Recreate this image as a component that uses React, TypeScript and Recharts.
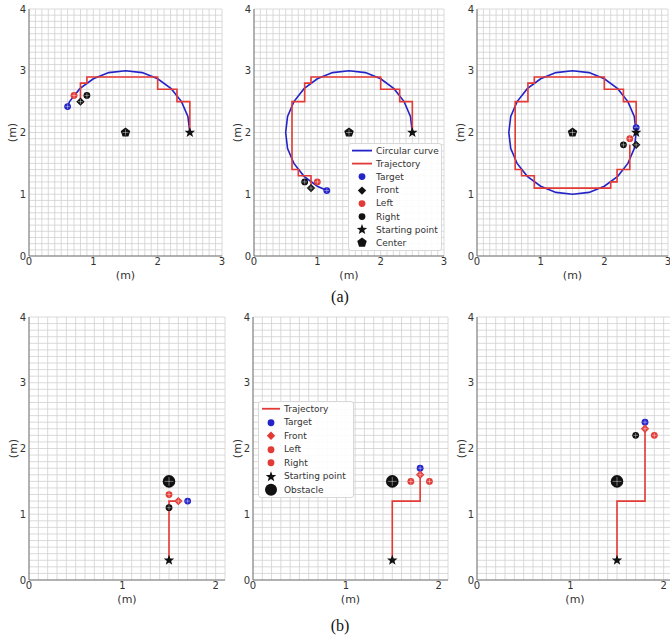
import { CartesianGrid, Label, Scatter, ScatterChart, XAxis, YAxis } from "recharts";

type Pt = { x: number; y: number };
type SensorPt = Pt & { blocked?: boolean };

// points (counter-clockwise from the start point)
const circleCurve: Pt[] = [
  { x: 2.5, y: 2.0 }, { x: 2.47, y: 2.26 }, { x: 2.37, y: 2.5 }, { x: 2.21, y: 2.71 },
  { x: 2.0, y: 2.87 }, { x: 1.76, y: 2.97 }, { x: 1.5, y: 3.0 }, { x: 1.24, y: 2.97 },
  { x: 1.0, y: 2.87 }, { x: 0.79, y: 2.71 }, { x: 0.63, y: 2.5 }, { x: 0.53, y: 2.26 },
  { x: 0.5, y: 2.0 }, { x: 0.53, y: 1.74 }, { x: 0.63, y: 1.5 }, { x: 0.79, y: 1.29 },
  { x: 1.0, y: 1.13 }, { x: 1.24, y: 1.03 }, { x: 1.5, y: 1.0 }, { x: 1.76, y: 1.03 },
  { x: 2.0, y: 1.13 }, { x: 2.21, y: 1.29 }, { x: 2.37, y: 1.5 }, { x: 2.47, y: 1.74 },
  { x: 2.5, y: 2.0 },
];

// (a) trajectories
const trajA1: Pt[] = [
  { x: 2.5, y: 2.0 }, { x: 2.5, y: 2.5 }, { x: 2.3, y: 2.5 }, { x: 2.3, y: 2.7 },
  { x: 2.0, y: 2.7 }, { x: 2.0, y: 2.9 }, { x: 0.9, y: 2.9 }, { x: 0.9, y: 2.8 },
  { x: 0.8, y: 2.8 }, { x: 0.8, y: 2.5 },
];
const trajA2Tail: Pt[] = [
  { x: 0.6, y: 2.5 }, { x: 0.6, y: 1.4 }, { x: 0.7, y: 1.4 }, { x: 0.7, y: 1.3 },
  { x: 0.9, y: 1.3 }, { x: 0.9, y: 1.1 },
];
const trajA3Tail: Pt[] = [
  { x: 2.1, y: 1.1 }, { x: 2.1, y: 1.2 }, { x: 2.2, y: 1.2 }, { x: 2.2, y: 1.4 },
  { x: 2.4, y: 1.4 }, { x: 2.4, y: 1.8 },
];
const trajA2 = [...trajA1, ...trajA2Tail];
const trajA3 = [...trajA2, ...trajA3Tail];

const targetA: Pt[] = [{ x: 0.6, y: 2.42 }, { x: 1.15, y: 1.06 }, { x: 2.5, y: 2.08 }];
const frontA: Pt[] = [{ x: 0.8, y: 2.5 }, { x: 0.9, y: 1.1 }, { x: 2.5, y: 1.8 }];
const leftA: Pt[] = [{ x: 0.7, y: 2.6 }, { x: 1.0, y: 1.2 }, { x: 2.4, y: 1.9 }];
const rightA: Pt[] = [{ x: 0.9, y: 2.6 }, { x: 0.8, y: 1.2 }, { x: 2.3, y: 1.8 }];
const startA: Pt = { x: 2.5, y: 2.0 };
const centerA: Pt = { x: 1.5, y: 2.0 };

// (b) obstacle avoidance
const trajB: Pt[][] = [
  [{ x: 1.5, y: 0.3 }, { x: 1.5, y: 1.2 }, { x: 1.6, y: 1.2 }],
  [{ x: 1.5, y: 0.3 }, { x: 1.5, y: 1.2 }, { x: 1.8, y: 1.2 }, { x: 1.8, y: 1.6 }],
  [{ x: 1.5, y: 0.3 }, { x: 1.5, y: 1.2 }, { x: 1.8, y: 1.2 }, { x: 1.8, y: 2.3 }],
];
const targetB: Pt[] = [{ x: 1.7, y: 1.2 }, { x: 1.8, y: 1.7 }, { x: 1.8, y: 2.4 }];
const frontB: Pt[] = [{ x: 1.6, y: 1.2 }, { x: 1.8, y: 1.6 }, { x: 1.8, y: 2.3 }];
const leftB: SensorPt[] = [{ x: 1.5, y: 1.3 }, { x: 1.7, y: 1.5 }, { x: 1.7, y: 2.2, blocked: true }];
const rightB: SensorPt[] = [{ x: 1.5, y: 1.1, blocked: true }, { x: 1.9, y: 1.5 }, { x: 1.9, y: 2.2 }];
const startB: Pt = { x: 1.5, y: 0.3 };
const obstacleB: Pt = { x: 1.5, y: 1.5 };

const ticksA = [0, 1, 2, 3];
const ticksB = [0, 1, 2];
const ticksY = [0, 1, 2, 3, 4];

const FONT = "DejaVu Sans, sans-serif";
const BLUE = "#2323c8";
const RED = "#e23a35";
const BLACK = "#111";
const TXT = "#333";

const steps = (max: number) => Array.from({ length: Math.round(max * 10) + 1 }, (_, i) => i / 10);

const cross = (cx: number, cy: number, r: number) => (
  <path d={`M${cx - r} ${cy}H${cx + r}M${cx} ${cy - r}V${cy + r}`} stroke="#fff" strokeOpacity={0.5} strokeWidth={0.8} />
);

const dot = (color: string, r: number) => (p: any) => (
  <g>
    <circle cx={p.cx} cy={p.cy} r={r} fill={color} />
    {cross(p.cx, p.cy, r * 0.7)}
  </g>
);

const sensorDot = (r: number) => (p: any) => dot(p.payload?.blocked ? BLACK : RED, r)(p);

const diamond = (color: string, s: number) => (p: any) => (
  <g>
    <path d={`M${p.cx} ${p.cy - s}L${p.cx + s} ${p.cy}L${p.cx} ${p.cy + s}L${p.cx - s} ${p.cy}Z`} fill={color} />
    {cross(p.cx, p.cy, s * 0.6)}
  </g>
);

function starPath(cx: number, cy: number, R: number) {
  let d = "";
  for (let i = 0; i < 10; i++) {
    const r = i % 2 === 0 ? R : R * 0.42;
    const a = -Math.PI / 2 + (i * Math.PI) / 5;
    d += `${i === 0 ? "M" : "L"}${cx + r * Math.cos(a)} ${cy + r * Math.sin(a)}`;
  }
  return d + "Z";
}

function pentagonPath(cx: number, cy: number, R: number) {
  let d = "";
  for (let i = 0; i < 5; i++) {
    const a = -Math.PI / 2 + (i * 2 * Math.PI) / 5;
    d += `${i === 0 ? "M" : "L"}${cx + R * Math.cos(a)} ${cy + R * Math.sin(a)}`;
  }
  return d + "Z";
}

const star = (R: number) => (p: any) => <path d={starPath(p.cx, p.cy, R)} fill={BLACK} />;
const pentagon = (R: number) => (p: any) => (
  <g>
    <path d={pentagonPath(p.cx, p.cy, R)} fill={BLACK} />
    {cross(p.cx, p.cy, R * 0.6)}
  </g>
);
const noMark = () => <g />;

type PanelProps = {
  left: number;
  top: number;
  w: number;
  h: number;
  xMax: number;
  xTicks: number[];
  curve?: Pt[];
  traj: Pt[];
  target: Pt;
  front: Pt;
  leftS: SensorPt;
  rightS: SensorPt;
  start: Pt;
  center?: Pt;
  obstacle?: Pt;
  row: "a" | "b";
};

function Panel(props: PanelProps) {
  const { left, top, w, h, xMax, xTicks, curve, traj, target, front, leftS, rightS, start, center, obstacle, row } = props;
  const tick = { fontSize: 10, fill: TXT, fontFamily: FONT };
  const yLabOff = row === "a" ? 17 : 16;
  return (
    <div style={{ position: "absolute", left: left - 30, top: top - 8 }}>
      <ScatterChart width={w + 36} height={h + 38} margin={{ top: 8, right: 6, bottom: 0, left: 0 }}>
        <CartesianGrid verticalValues={steps(xMax)} horizontalValues={steps(4)} stroke="#d0d0d0" strokeWidth={0.8} />
        <XAxis
          type="number"
          dataKey="x"
          domain={[0, xMax]}
          ticks={xTicks}
          interval={0}
          allowDataOverflow
          height={30}
          tickSize={0}
          tickMargin={2}
          tickLine={false}
          axisLine={{ stroke: "#777" }}
          tick={tick}
        >
          <Label
            content={(p: any) => (
              <text
                x={p.viewBox.x + p.viewBox.width / 2}
                y={p.viewBox.y + 19}
                textAnchor="middle"
                dominantBaseline="central"
                fontSize={11}
                fontFamily={FONT}
                fill={TXT}
              >
                (m)
              </text>
            )}
          />
        </XAxis>
        <YAxis
          type="number"
          dataKey="y"
          domain={[0, 4]}
          ticks={ticksY}
          interval={0}
          allowDataOverflow
          width={30}
          tickSize={0}
          tickMargin={3}
          tickLine={false}
          axisLine={{ stroke: "#777" }}
          tick={tick}
        >
          <Label
            content={(p: any) => {
              const cx = p.viewBox.x + p.viewBox.width - yLabOff;
              const cy = p.viewBox.y + p.viewBox.height / 2;
              return (
                <text
                  x={cx}
                  y={cy}
                  transform={`rotate(-90 ${cx} ${cy})`}
                  textAnchor="middle"
                  dominantBaseline="central"
                  fontSize={11}
                  fontFamily={FONT}
                  fill={TXT}
                >
                  (m)
                </text>
              );
            }}
          />
        </YAxis>
        {curve && (
          <Scatter data={curve} line={{ stroke: BLUE, strokeWidth: 1.6 }} lineType="joint" shape={noMark} isAnimationActive={false} />
        )}
        <Scatter data={traj} line={{ stroke: RED, strokeWidth: 1.6 }} lineType="joint" shape={noMark} isAnimationActive={false} />
        <Scatter data={[target]} shape={dot(BLUE, 3.4)} isAnimationActive={false} />
        <Scatter data={[front]} shape={diamond(row === "a" ? BLACK : RED, 4.2)} isAnimationActive={false} />
        <Scatter data={[leftS]} shape={row === "a" ? dot(RED, 3.4) : sensorDot(3.4)} isAnimationActive={false} />
        <Scatter data={[rightS]} shape={row === "a" ? dot(BLACK, 3.4) : sensorDot(3.4)} isAnimationActive={false} />
        <Scatter data={[start]} shape={star(5.5)} isAnimationActive={false} />
        {center && <Scatter data={[center]} shape={pentagon(5)} isAnimationActive={false} />}
        {obstacle && <Scatter data={[obstacle]} shape={dot(BLACK, 6.3)} isAnimationActive={false} />}
      </ScatterChart>
    </div>
  );
}

type LegendItem = { label: string; icon: (cx: number, cy: number) => JSX.Element };

function LegendBox({ left, top, w, rowH, iconX, items }: { left: number; top: number; w: number; rowH: number; iconX: number; items: LegendItem[] }) {
  return (
    <div
      style={{
        position: "absolute",
        left,
        top,
        width: w,
        background: "rgba(255,255,255,0.9)",
        border: "1px solid #d8d8d8",
        borderRadius: 3,
        fontFamily: FONT,
        fontSize: 9,
        color: TXT,
      }}
    >
      {items.map((it) => (
        <div key={it.label} style={{ height: rowH, display: "flex", alignItems: "center" }}>
          <svg width={iconX * 2 + 4} height={rowH} style={{ flex: "none" }}>
            {it.icon(iconX + 2, rowH / 2)}
          </svg>
          <span style={{ marginLeft: 1, whiteSpace: "nowrap" }}>{it.label}</span>
        </div>
      ))}
    </div>
  );
}

const lineIcon = (color: string, half: number) => (cx: number, cy: number) => (
  <line x1={cx - half} x2={cx + half} y1={cy} y2={cy} stroke={color} strokeWidth={1.8} />
);
const dotIcon = (color: string, r: number) => (cx: number, cy: number) => <circle cx={cx} cy={cy} r={r} fill={color} />;
const diamondIcon = (color: string, s: number) => (cx: number, cy: number) => (
  <path d={`M${cx} ${cy - s}L${cx + s} ${cy}L${cx} ${cy + s}L${cx - s} ${cy}Z`} fill={color} />
);

const legendA: LegendItem[] = [
  { label: "Circular curve", icon: lineIcon(BLUE, 10) },
  { label: "Trajectory", icon: lineIcon(RED, 10) },
  { label: "Target", icon: dotIcon(BLUE, 3.4) },
  { label: "Front", icon: diamondIcon(BLACK, 4.2) },
  { label: "Left", icon: dotIcon(RED, 3.4) },
  { label: "Right", icon: dotIcon(BLACK, 3.4) },
  { label: "Starting point", icon: (cx, cy) => <path d={starPath(cx, cy, 5.5)} fill={BLACK} /> },
  { label: "Center", icon: (cx, cy) => <path d={pentagonPath(cx, cy, 5)} fill={BLACK} /> },
];

const legendB: LegendItem[] = [
  { label: "Trajectory", icon: lineIcon(RED, 9) },
  { label: "Target", icon: dotIcon(BLUE, 3.4) },
  { label: "Front", icon: diamondIcon(RED, 4.2) },
  { label: "Left", icon: dotIcon(RED, 3.4) },
  { label: "Right", icon: dotIcon(RED, 3.4) },
  { label: "Starting point", icon: (cx, cy) => <path d={starPath(cx, cy, 5.5)} fill={BLACK} /> },
  { label: "Obstacle", icon: dotIcon(BLACK, 6) },
];

const caption = (top: number) => ({
  position: "absolute" as const,
  left: 300,
  top,
  width: 80,
  textAlign: "center" as const,
  fontFamily: "Liberation Serif, serif",
  fontSize: 16,
  lineHeight: "18px",
  color: "#111",
});

export default function App() {
  const topBoxes = [
    { left: 29, w: 193 },
    { left: 254, w: 190 },
    { left: 477, w: 191 },
  ];
  const botBoxes = [
    { left: 29, w: 196 },
    { left: 253, w: 195 },
    { left: 477, w: 196 },
  ];
  const curves = [
    [...circleCurve.slice(0, 11), targetA[0]],
    [...circleCurve.slice(0, 17), targetA[1]],
    [...circleCurve, targetA[2]],
  ];
  const trajs = [trajA1, trajA2, trajA3];
  return (
    <div style={{ position: "absolute", left: 0, top: 0, width: 670, height: 637, overflow: "hidden", background: "#fff" }}>
      {topBoxes.map((b, i) => (
        <Panel
          key={"a" + i}
          left={b.left}
          top={9}
          w={b.w}
          h={247}
          xMax={3}
          xTicks={ticksA}
          curve={curves[i]}
          traj={trajs[i]}
          target={targetA[i]}
          front={frontA[i]}
          leftS={leftA[i]}
          rightS={rightA[i]}
          start={startA}
          center={centerA}
          row="a"
        />
      ))}
      {botBoxes.map((b, i) => (
        <Panel
          key={"b" + i}
          left={b.left}
          top={317}
          w={b.w}
          h={263}
          xMax={2.1}
          xTicks={ticksB}
          traj={trajB[i]}
          target={targetB[i]}
          front={frontB[i]}
          leftS={leftB[i]}
          rightS={rightB[i]}
          start={startB}
          obstacle={obstacleB}
          row="b"
        />
      ))}
      <LegendBox left={348} top={143} w={92} rowH={13.2} iconX={11} items={legendA} />
      <LegendBox left={258} top={401} w={94} rowH={13.5} iconX={10} items={legendB} />
      <div style={caption(288)}>(a)</div>
      <div style={caption(617)}>(b)</div>
    </div>
  );
}
